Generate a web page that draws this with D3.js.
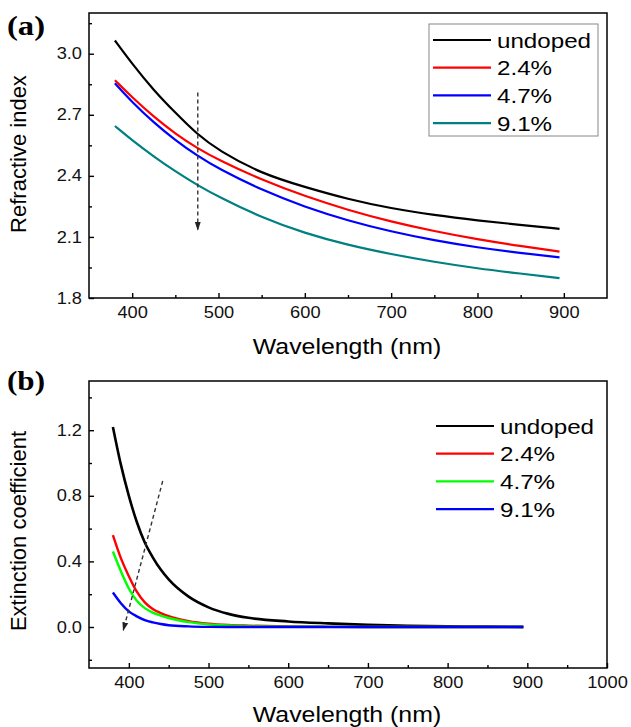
<!DOCTYPE html>
<html>
<head>
<meta charset="utf-8">
<script src="https://cdn.jsdelivr.net/npm/d3@7"></script>
<style>
body{margin:0;background:#fff;}
svg{display:block;font-family:"Liberation Sans",Arial,sans-serif;}
</style>
</head>
<body>
<div class="canvas"></div>
<script>
// ---- data ----
const labels=['undoped','2.4%','4.7%','9.1%'];

// (a) refractive index vs wavelength
const waveA=[380,400,425,450,475,500,550,600,650,700,750,800,850,895];
const nUndoped=[3.065,2.95,2.82,2.71,2.605,2.525,2.41,2.345,2.285,2.24,2.207,2.181,2.159,2.14];
const n24=[2.87,2.785,2.69,2.607,2.537,2.478,2.38,2.30,2.232,2.175,2.128,2.088,2.055,2.028];
const n47=[2.855,2.762,2.662,2.575,2.50,2.435,2.33,2.247,2.18,2.126,2.083,2.048,2.021,2.00];
const n91=[2.645,2.575,2.495,2.422,2.356,2.297,2.195,2.118,2.06,2.015,1.977,1.945,1.92,1.898];

// (b) extinction coefficient vs wavelength
const waveB=[380,390,400,410,420,430,440,450,475,500,525,550,600,650,700,750,800,850,895];
const kUndoped=[1.22,0.99,0.80,0.64,0.515,0.425,0.35,0.29,0.185,0.12,0.08,0.056,0.034,0.022,0.013,0.008,0.004,0.002,0.001];
const k24=[0.56,0.42,0.31,0.215,0.15,0.11,0.085,0.066,0.036,0.02,0.012,0.008,0.003,0.001,0,0,0,0,0];
const k47=[0.46,0.34,0.235,0.16,0.115,0.088,0.07,0.055,0.03,0.016,0.009,0.005,0.002,0.001,0,0,0,0,0];
const k91=[0.21,0.145,0.095,0.065,0.042,0.028,0.018,0.011,0.004,0.001,0,0,0,0,0,0,0,0,0];

// ticks
const xTicksA=[400,500,600,700,800,900];
const xMinorA=[450,550,650,750,850];
const yTicksA=[1.8,2.1,2.4,2.7,3.0];
const yMinorA=[1.95,2.25,2.55,2.85,3.15];
const xTicksB=[400,500,600,700,800,900,1000];
const xMinorB=[450,550,650,750,850,950];
const yTicksB=[0,0.4,0.8,1.2];
const yMinorB=[-0.2,0.2,0.6,1.0,1.4];

const svg=d3.select('.canvas').append('svg')
.attr('width',631)
.attr('height',727);

svg.append('rect').attr('width',631).attr('height',727).attr('fill','#fff');

// arrow head for the dashed trend arrows
svg.append('defs').append('marker')
.attr('id','head')
.attr('markerUnits','userSpaceOnUse')
.attr('viewBox','0 -4 9 8')
.attr('refX',8).attr('refY',0)
.attr('markerWidth',9).attr('markerHeight',8)
.attr('orient','auto')
.append('path')
.attr('d','M0,-3L9,0L0,3Z')
.attr('fill','#222');

// the source image is a bit wider than tall, so widen the text a little
const stretch=(sel,k)=>{
    sel.each(function(){
        const w=this.getComputedTextLength();
        d3.select(this).attr('textLength',w*k).attr('lengthAdjust','spacingAndGlyphs');
    });
}

const drawPanel=(p)=>{
    const x=d3.scaleLinear().domain(p.xDomain).range([p.left,p.right]);
    const y=d3.scaleLinear().domain(p.yDomain).range([p.bottom,p.top]);
    const g=svg.append('g');

    // major + minor ticks, pointing inwards
    const xAxis=g.append('g').attr('transform',`translate(0,${p.bottom})`)
    .call(d3.axisBottom(x).tickValues(p.xTicks).tickSize(-5).tickPadding(9).tickFormat(d3.format('d')));
    const xMin=g.append('g').attr('transform',`translate(0,${p.bottom})`)
    .call(d3.axisBottom(x).tickValues(p.xMinor).tickSize(-3).tickFormat(''));
    const yAxis=g.append('g').attr('transform',`translate(${p.left},0)`)
    .call(d3.axisLeft(y).tickValues(p.yTicks).tickSize(-5).tickPadding(7).tickFormat(d3.format('.1f')));
    const yMin=g.append('g').attr('transform',`translate(${p.left},0)`)
    .call(d3.axisLeft(y).tickValues(p.yMinor).tickSize(-3).tickFormat(''));

    [xAxis,xMin,yAxis,yMin].forEach(a=>{
        a.select('.domain').remove();
        a.selectAll('line').attr('stroke','#000').attr('stroke-width',1.4);
        a.selectAll('text').attr('font-size',16).attr('font-family','"Liberation Sans",Arial,sans-serif').attr('fill','#111');
    });
    stretch(xAxis.selectAll('text'),1.14);
    stretch(yAxis.selectAll('text'),1.14);

    // curves
    const line=d3.line()
    .x(d=>x(d[0]))
    .y(d=>y(d[1]))
    .curve(p.curve);

    p.series.forEach((s,i)=>{
        g.append('path')
        .datum(p.wave.map((w,j)=>[w,s[j]]))
        .attr('d',line)
        .attr('fill','none')
        .attr('stroke',p.colors[i])
        .attr('stroke-width',p.widths[i])
        .attr('stroke-linejoin','round');
    });

    // frame
    g.append('rect')
    .attr('x',p.left).attr('y',p.top)
    .attr('width',p.right-p.left).attr('height',p.bottom-p.top)
    .attr('fill','none').attr('stroke','#000').attr('stroke-width',1.5);

    // dashed arrow
    g.append('line')
    .attr('x1',x(p.arrow[0][0])).attr('y1',y(p.arrow[0][1]))
    .attr('x2',x(p.arrow[1][0])).attr('y2',y(p.arrow[1][1]))
    .attr('stroke','#333').attr('stroke-width',1.4)
    .attr('stroke-dasharray','4,3')
    .attr('marker-end','url(#head)');

    // legend
    const lg=g.append('g');
    if(p.legendBox){
        lg.append('rect')
        .attr('x',p.legendBox[0]).attr('y',p.legendBox[1])
        .attr('width',p.legendBox[2]).attr('height',p.legendBox[3])
        .attr('fill','#fff').attr('stroke','#888').attr('stroke-width',1);
    }
    labels.forEach((l,i)=>{
        const ly=p.legendY+i*p.legendStep;
        lg.append('line')
        .attr('x1',p.legendX).attr('x2',p.legendX+58)
        .attr('y1',ly).attr('y2',ly)
        .attr('stroke',p.colors[i]).attr('stroke-width',2.2);
        lg.append('text')
        .attr('x',p.legendX+64).attr('y',ly+7.5)
        .attr('font-size',21)
        .attr('fill','#000')
        .text(l);
    });
    stretch(lg.selectAll('text'),1.15);

    // titles
    const xt=g.append('text')
    .attr('x',(p.left+p.right)/2-1).attr('y',p.xTitleY)
    .attr('text-anchor','middle')
    .attr('font-size',22)
    .text('Wavelength (nm)');
    stretch(xt,1.13);

    g.append('text')
    .attr('transform',`translate(26,${p.yTitleY}) rotate(-90)`)
    .attr('text-anchor','middle')
    .attr('font-size',22)
    .text(p.yTitle);

    g.append('text')
    .attr('x',7).attr('y',p.tagY)
    .attr('font-family','"Liberation Serif","Times New Roman",serif')
    .attr('font-weight','bold')
    .attr('font-size',27)
    .attr('textLength',38).attr('lengthAdjust','spacingAndGlyphs')
    .text(p.tag);
}

drawPanel({
    left:89,right:607,top:13,bottom:298,
    xDomain:[350,950],yDomain:[1.8,3.2],
    xTicks:xTicksA,xMinor:xMinorA,yTicks:yTicksA,yMinor:yMinorA,
    wave:waveA,series:[nUndoped,n24,n47,n91],curve:d3.curveBasis,
    colors:['#000000','#ff0000','#0000ff','#008080'],
    widths:[2.2,2.2,2.2,2.2],
    arrow:[[476,2.81],[476,2.135]],
    legendBox:[429,24,169,112],legendX:433,legendY:40,legendStep:27.7,
    xTitleY:354,yTitle:'Refractive index',yTitleY:154,
    tag:'(a)',tagY:35
});

drawPanel({
    left:89,right:607,top:381,bottom:668,
    xDomain:[350,1000],yDomain:[-0.25,1.5],
    xTicks:xTicksB,xMinor:xMinorB,yTicks:yTicksB,yMinor:yMinorB,
    wave:waveB,series:[kUndoped,k24,k47,k91],curve:d3.curveMonotoneX,
    colors:['#000000','#ff0000','#00ff00','#0000ff'],
    widths:[2.6,2.4,2.4,2.4],
    arrow:[[442.5,0.89],[393,-0.02]],
    legendBox:null,legendX:436,legendY:426,legendStep:27.7,
    xTitleY:722,yTitle:'Extinction coefficient',yTitleY:531,
    tag:'(b)',tagY:390
});
</script>
</body>
</html>
